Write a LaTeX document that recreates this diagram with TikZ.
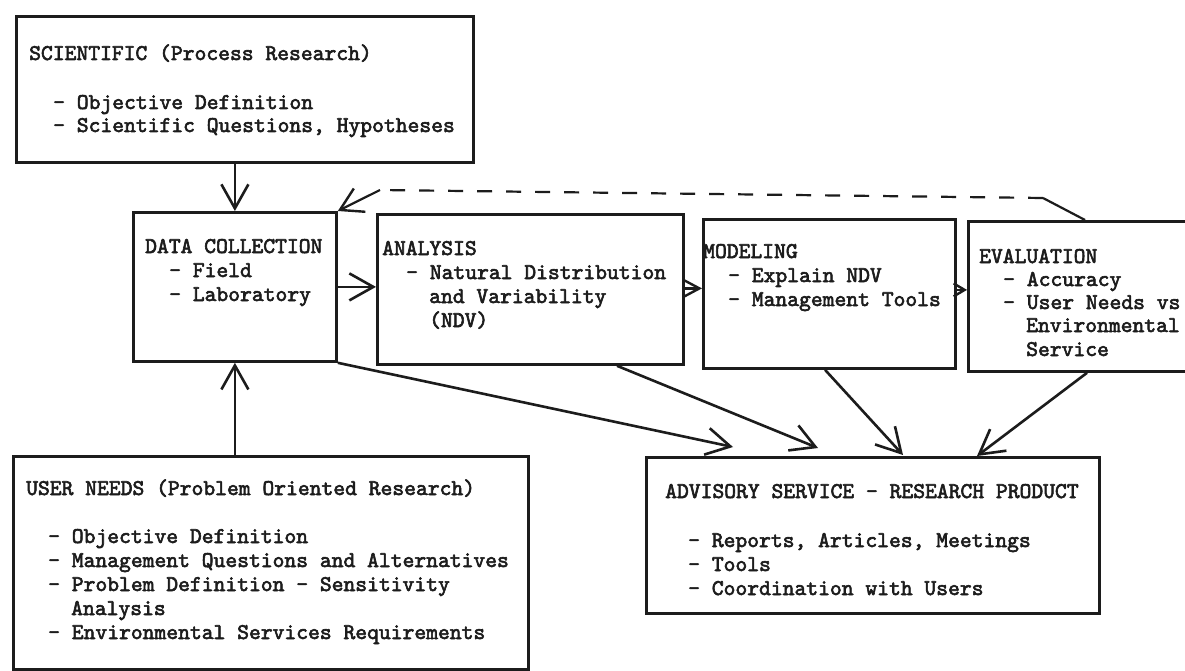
\documentclass[tikz,border=0pt]{standalone}
\usepackage{fontspec}
\newfontfamily\tw{lmmono10-regular}[Extension=.otf,FakeBold=2.6]
\usetikzlibrary{arrows.meta}
\definecolor{ink}{HTML}{1C1C1C}
\begin{document}
\begin{tikzpicture}[x=1pt,y=-1pt,
  box/.style={draw=ink, line width=2.8pt, anchor=north west, inner sep=0pt},
  txt/.style={anchor=base west, inner sep=0pt, text=ink, font=\tw\fontsize{22.5}{24}\selectfont},
  conn/.style={draw=ink, line width=2.6pt},
  arr/.style={conn, -{Straight Barb[length=24pt,width=27pt,line width=2.6pt]}},
  arrs/.style={conn, -{Straight Barb[length=16pt,width=17pt,line width=2.4pt]}},
  arrxs/.style={conn, -{Straight Barb[length=11pt,width=13pt,line width=2.4pt]}},
  dashline/.style={draw=ink, line width=2.2pt, dash pattern=on 15pt off 14pt}]
\clip (0,0) rectangle (1185,671);
\fill[white] (0,0) rectangle (1185,671);

% boxes
\node[box, minimum width=457pt, minimum height=146pt] (sci) at (15,15) {};
\node[box, minimum width=203pt, minimum height=149pt] (dc) at (132,211) {};
\node[box, minimum width=306pt, minimum height=150pt] (ana) at (376,213) {};
\node[box, minimum width=252pt, minimum height=149pt] (mod) at (702,218) {};
\node[box, minimum width=240pt, minimum height=150pt] (eva) at (967,220) {};
\node[box, minimum width=453pt, minimum height=156pt] (adv) at (645,456) {};
\node[box, minimum width=515pt, minimum height=213pt] (usr) at (12,455) {};

% scientific
\node[txt] (sci1) at (29,60) {SCIENTIFIC (Process Research)};
\node[txt] (sci2) at (53,109) {- Objective Definition};
\node[txt] (sci3) at (53,132) {- Scientific Questions, Hypotheses};

% data collection
\node[txt] (dc1) at (145,253) {DATA COLLECTION};
\node[txt] (dc2) at (169,277) {- Field};
\node[txt] (dc3) at (169,301) {- Laboratory};

% analysis
\node[txt] (ana1) at (382,255) {ANALYSIS};
\node[txt] (ana2) at (406,279) {- Natural Distribution};
\node[txt] (ana3) at (429,303) {and Variability};
\node[txt] (ana4) at (429,327) {(NDV)};

% modeling
\node[txt] (mod1) at (703,258) {MODELING};
\node[txt] (mod2) at (728,282) {- Explain NDV};
\node[txt] (mod3) at (728,306) {- Management Tools};

% evaluation
\node[txt] (eva1) at (979,263) {EVALUATION};
\node[txt] (eva2) at (1003,286) {- Accuracy};
\node[txt] (eva3) at (1003,309) {- User Needs vs};
\node[txt] (eva4) at (1026,332) {Environmental};
\node[txt] (eva5) at (1026,356) {Service};

% advisory
\node[txt] (adv1) at (665,498) {ADVISORY SERVICE - RESEARCH PRODUCT};
\node[txt] (adv2) at (688,547) {- Reports, Articles, Meetings};
\node[txt] (adv3) at (688,571) {- Tools};
\node[txt] (adv4) at (688,595) {- Coordination with Users};

% user needs
\node[txt] (usr1) at (26,495) {USER NEEDS (Problem Oriented Research)};
\node[txt] (usr2) at (48,543) {- Objective Definition};
\node[txt] (usr3) at (48,567) {- Management Questions and Alternatives};
\node[txt] (usr4) at (48,591) {- Problem Definition - Sensitivity};
\node[txt] (usr5) at (71,615) {Analysis};
\node[txt] (usr6) at (48,639) {- Environmental Services Requirements};

% connectors
\draw[arr] (sci.south -| dc.north) -- (dc.north);
\draw[arr] (usr.north -| dc.south) -- (dc.south);
\draw[arr] (dc.east) -- (dc.east -| ana.west);
\draw[arrs] ([yshift=1pt]ana.east) -- ([yshift=1pt]ana.east -| mod.west);
\draw[arrxs] ([yshift=4pt]mod.east) -- ([yshift=4pt]mod.east -| eva.west);

\draw[arr] (dc.south east) -- ([xshift=88pt,yshift=9pt]adv.north west);
\draw[arr] ([xshift=241pt]ana.south west) -- ([xshift=173pt,yshift=8pt]adv.north west);
\draw[arr] ([xshift=123pt]mod.south west) -- ([xshift=258pt,yshift=1pt]adv.north west);
\draw[arr] ([xshift=120pt]eva.south west) -- ([xshift=332pt]adv.north west);

% feedback dashed
\coordinate (fb1) at (1043,198);
\coordinate (fb2) at (380,190);
\draw[conn, line width=2.2pt] ([xshift=118pt]eva.north west) -- (fb1);
\draw[dashline] (fb1) -- (fb2);
\draw[conn, line width=2.2pt, -{Straight Barb[length=22pt,width=26pt,line width=2.4pt]}] (fb2) -- (dc.north east);
\end{tikzpicture}
\end{document}
